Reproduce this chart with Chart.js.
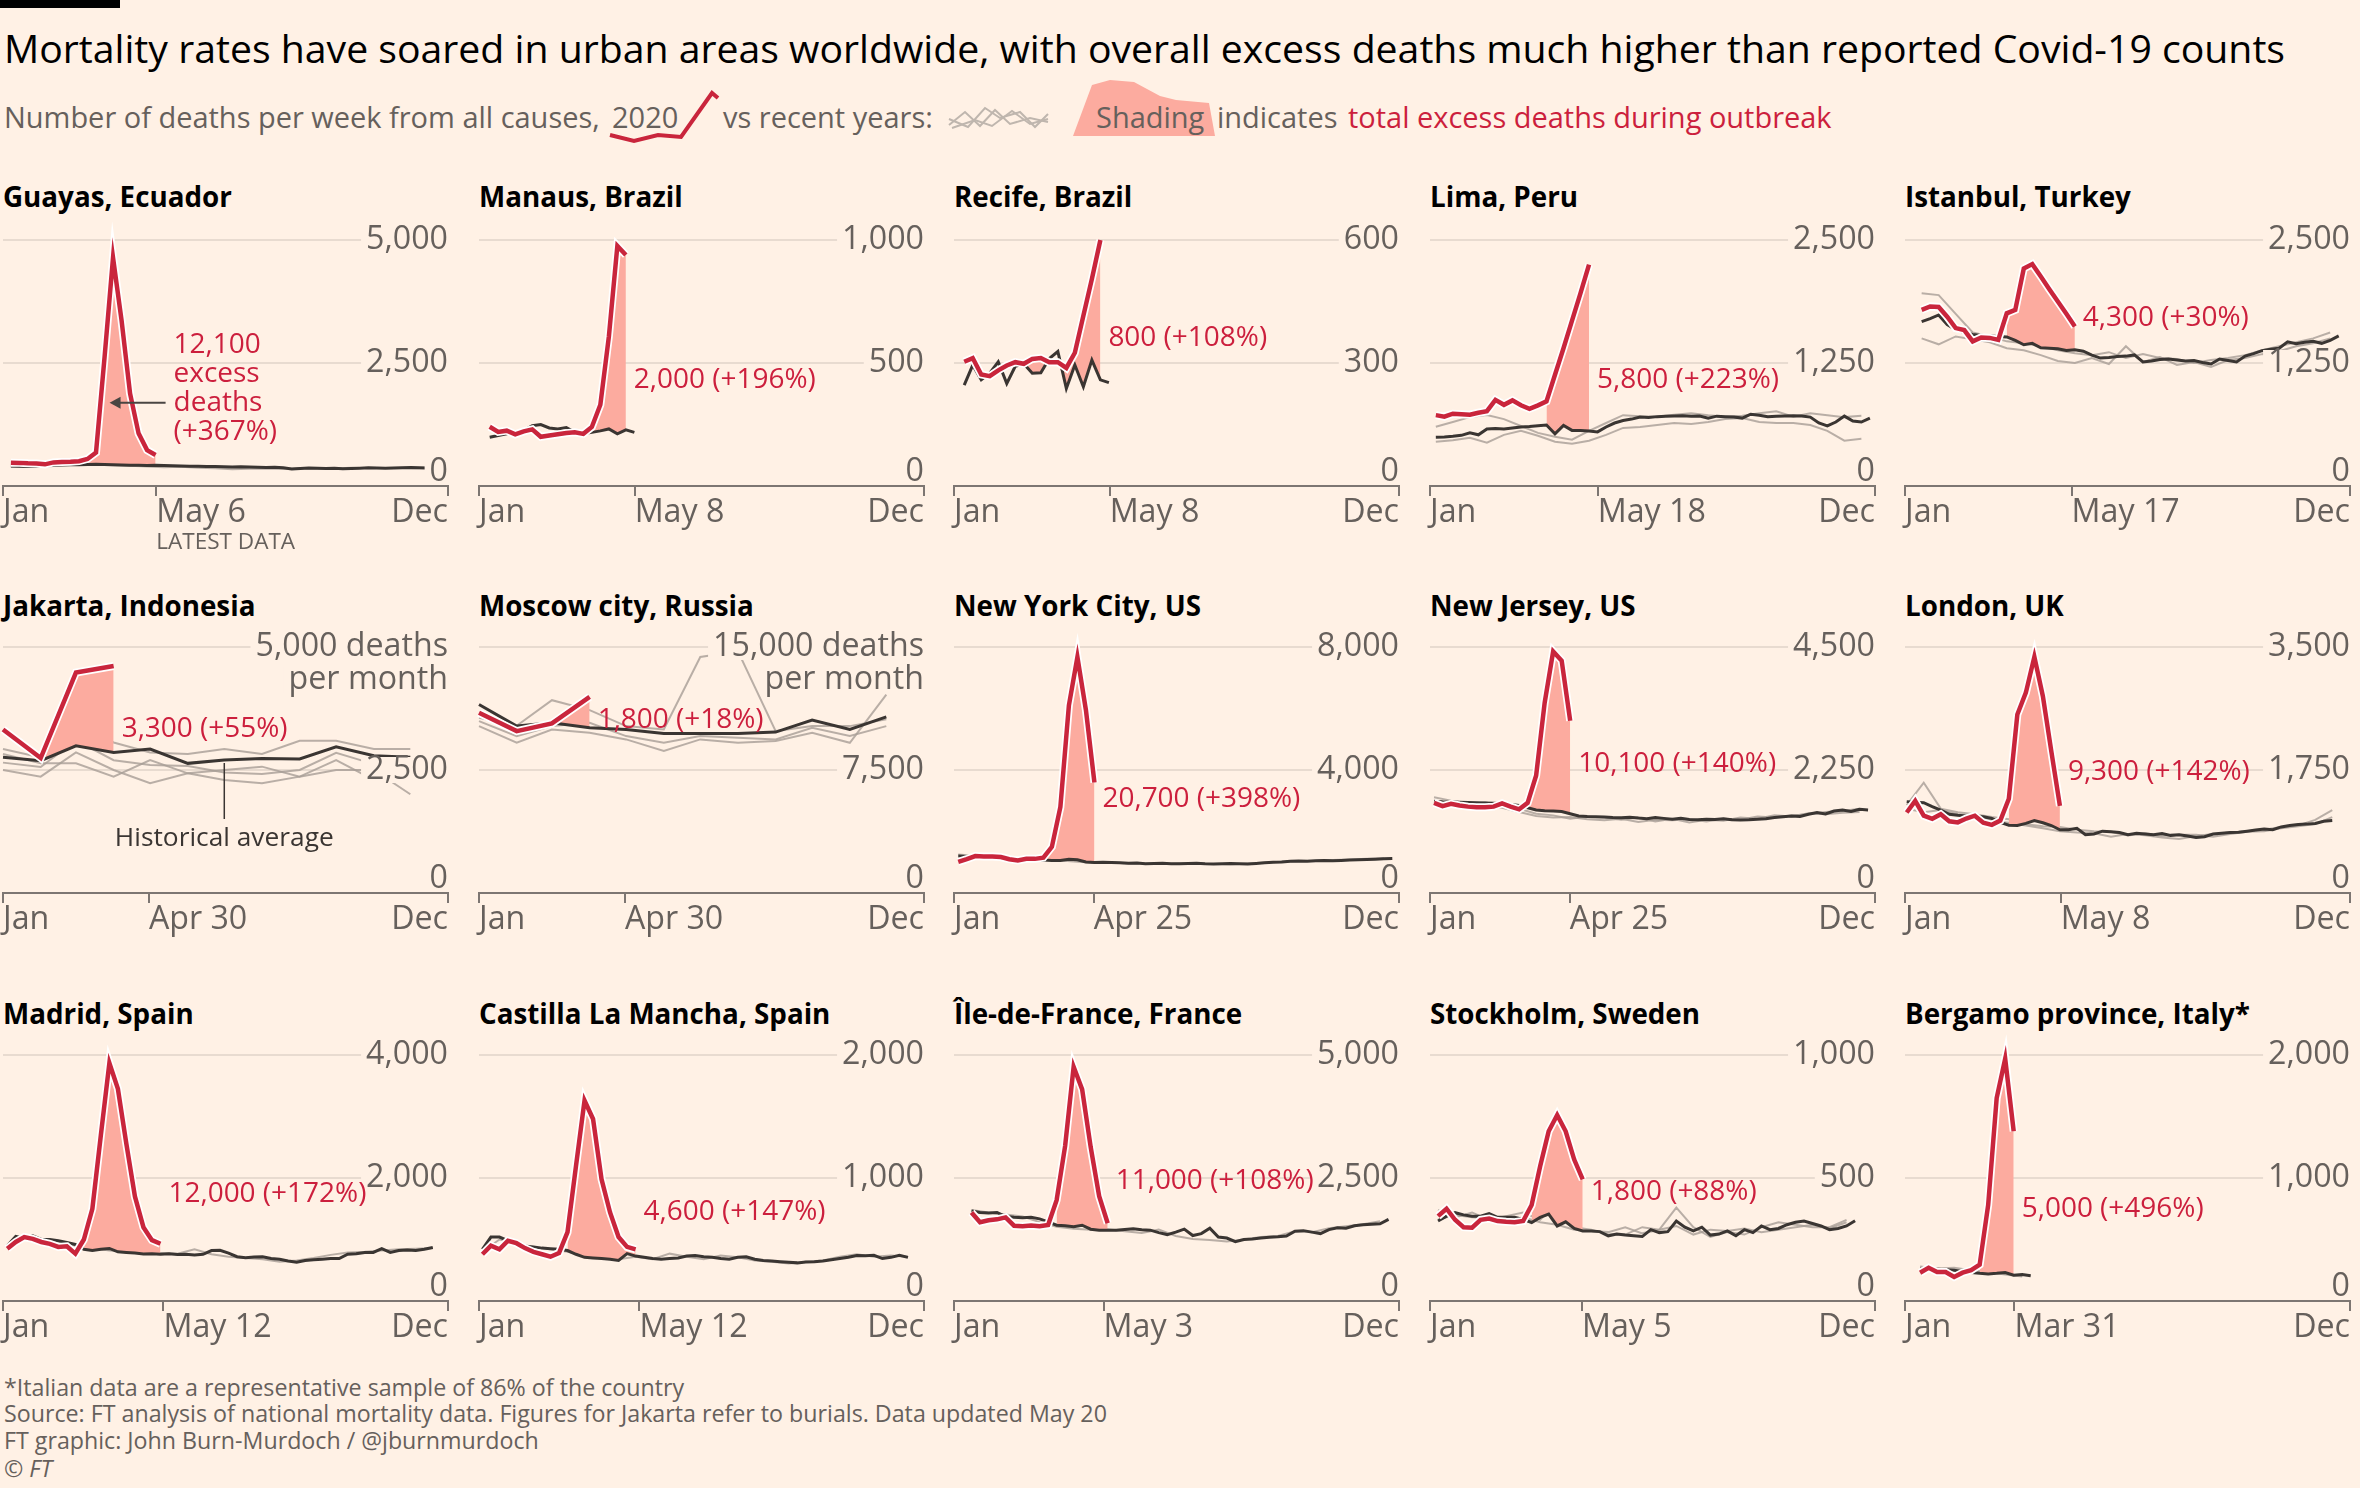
<!DOCTYPE html>
<html>
<head>
<meta charset="utf-8">
<title>Excess mortality in urban areas</title>
<script src="https://cdn.jsdelivr.net/npm/chart.js@4.4.1/dist/chart.umd.min.js"></script>
<style>
  html, body { margin: 0; padding: 0; background: #fff1e5; }
  body { position: relative; width: 2360px; height: 1488px; overflow: hidden; font-family: "Open Sans", sans-serif; }
  .t { position: absolute; white-space: nowrap; line-height: 1; }
  canvas { position: absolute; }
</style>
</head>
<body>
<div style="position:absolute;left:0;top:0;width:120px;height:8px;background:#000"></div>
<svg style="position:absolute;left:0;top:0" width="2360" height="150">
  <polygon points="1073,136 1092,85 1110,80 1134,82 1160,96 1176,100 1209,103 1215,136" fill="#fcab9f"/>
  <polyline points="610,135 634,141 658,135 681,137 712,93 718,98" fill="none" stroke="#c9253c" stroke-width="4"/>
  <g fill="none" stroke="#bfb6ae" stroke-width="2">
    <polyline points="949,125 965,112 980,126 995,110 1010,124 1030,118 1048,122"/>
    <polyline points="949,119 968,127 985,108 1000,118 1020,112 1035,127 1048,114"/>
    <polyline points="952,128 975,120 992,126 1012,111 1030,124 1048,119"/>
  </g>
</svg>
<script>
// ---- data: weekly deaths, 2020 vs historical average and past years ----
const panelTitles = ['Guayas, Ecuador', 'Manaus, Brazil', 'Recife, Brazil', 'Lima, Peru', 'Istanbul, Turkey',
  'Jakarta, Indonesia', 'Moscow city, Russia', 'New York City, US', 'New Jersey, US', 'London, UK',
  'Madrid, Spain', 'Castilla La Mancha, Spain', 'Île-de-France, France', 'Stockholm, Sweden', 'Bergamo province, Italy*'];
const yMax = [5000, 1000, 600, 2500, 2500, 5000, 15000, 8000, 4500, 3500, 4000, 2000, 5000, 1000, 2000];
const topSuffix = ['', '', '', '', '', ' deaths', ' deaths', '', '', '', '', '', '', '', ''];
const latestLabels = ['May 6', 'May 8', 'May 8', 'May 18', 'May 17', 'Apr 30', 'Apr 30', 'Apr 25', 'Apr 25', 'May 8',
  'May 12', 'May 12', 'May 3', 'May 5', 'Mar 31'];
const latestDays = [126, 128, 128, 138, 137, 120, 120, 115, 115, 128, 132, 132, 123, 125, 90];
// day of year of the first weekly value (null = monthly data)
const startDays = [6.5, 8.8, 8.4, 4.8, 13.7, null, null, 3.5, 3.3, 1.4, 3.5, 2.8, 14.4, 6.6, 12.4];
const monthDays = [0, 31, 60, 91, 121, 152, 182, 213, 244, 274, 305, 335];
const outbreakStart = [9, 11, 7, 13, 10, 1, 2, 10, 11, 12, 9, 10, 10, 11, 7];
const excessText = ['12,100\nexcess\ndeaths\n(+367%)', '2,000 (+196%)', '800 (+108%)', '5,800 (+223%)', '4,300 (+30%)',
  '3,300 (+55%)', '1,800 (+18%)', '20,700 (+398%)', '10,100 (+140%)', '9,300 (+142%)',
  '12,000 (+172%)', '4,600 (+147%)', '11,000 (+108%)', '1,800 (+88%)', '5,000 (+496%)'];
const labelValueY = [2870, 431, 361, 1077, 1707, 3340, 10567, 3045, 2350, 1715, 1733, 720, 2429, 441, 745];

const guayas2020 = [474, 470, 460, 455, 440, 480, 490, 495, 505, 550, 680, 2610, 4640, 3370, 1880, 1070, 730, 630];
const guayasAvg = [405, 400, 398, 402, 410, 418, 425, 430, 432, 436, 440, 438, 432, 428, 424, 420, 418, 421, 416, 410,
  406, 402, 400, 397, 395, 392, 388, 390, 386, 382, 378, 380, 372, 345, 358, 366, 362, 356, 360, 352,
  356, 362, 370, 366, 360, 364, 370, 374, 370, 366, 362, 366];
const guayasPast = [[390, 400, 420, 440, 450, 430, 420, 410, 395, 380, 390, 370, 360, 340, 350, 355, 345, 360, 350, 355, 370, 360, 365, 370, 360, 355]];

const manaus2020 = [241, 220, 225, 210, 222, 230, 200, 205, 210, 215, 218, 212, 240, 330, 607, 976, 939];
const manausAvg = [198, 205, 212, 218, 225, 245, 250, 236, 232, 238, 218, 212, 218, 224, 232, 212, 228, 218];
const manausPast = [];

const recife2020 = [303, 312, 272, 268, 282, 294, 302, 298, 310, 312, 302, 302, 288, 325, 415, 505, 600];
const recifeAvg = [246, 295, 259, 275, 303, 250, 292, 298, 275, 276, 311, 328, 238, 295, 242, 307, 259, 252];
const recifePast = [];

const lima2020 = [720, 705, 735, 730, 725, 745, 760, 875, 825, 870, 820, 785, 820, 860, 1130, 1400, 1680, 1960, 2250];
const limaAvg = [495, 498, 505, 515, 540, 520, 580, 585, 580, 590, 600, 605, 612, 620, 530, 615, 565, 565, 560, 550,
  600, 640, 665, 680, 700, 695, 705, 710, 712, 715, 710, 712, 690, 710, 705, 700, 690, 730, 720, 705,
  710, 712, 715, 712, 700, 640, 610, 650, 710, 660, 650, 690];
const limaPast = [
  [603, 650, 700, 722, 680, 610, 540, 500, 470, 560, 640, 720, 710, 705, 725, 740, 720, 705, 715, 740, 760, 705, 740, 720, 700, 715],
  [450, 465, 490, 440, 520, 560, 510, 450, 430, 460, 520, 590, 600, 620, 640, 630, 650, 680, 690, 650, 640, 640, 620, 560, 460, 480]];

const istanbul2020 = [1790, 1825, 1820, 1720, 1605, 1585, 1470, 1510, 1505, 1485, 1755, 1790, 2210, 2255, 2130, 2000, 1875, 1750, 1620];
const istanbulAvg = [1670, 1700, 1738, 1640, 1590, 1560, 1540, 1530, 1525, 1520, 1515, 1480, 1435, 1450, 1405, 1400, 1395, 1378, 1385, 1370,
  1330, 1300, 1305, 1315, 1320, 1332, 1260, 1270, 1285, 1290, 1280, 1270, 1275, 1255, 1240, 1290, 1275, 1260, 1320, 1345,
  1375, 1390, 1400, 1465, 1445, 1460, 1470, 1450, 1480, 1525];
const istanbulPast = [
  [1960, 1940, 1750, 1560, 1520, 1470, 1450, 1420, 1380, 1350, 1330, 1360, 1300, 1340, 1300, 1290, 1250, 1280, 1300, 1330, 1380, 1420, 1460, 1500, 1560],
  [1500, 1440, 1520, 1490, 1460, 1400, 1380, 1330, 1270, 1250, 1300, 1240, 1420, 1260, 1310, 1230, 1260, 1210, 1280, 1300, 1340, 1370, 1420, 1450, 1500]];

// Jakarta and Moscow: monthly deaths
const jakarta2020 = [3324, 2743, 4480, 4615];
const jakartaAvg = [2757, 2689, 2993, 2858, 2926, 2635, 2703, 2736, 2723, 2973, 2790, 2757];
const jakartaPast = [
  [2926, 2757, 3432, 3060, 2858, 2824, 2926, 2824, 3095, 3095, 2926, 2926],
  [2500, 2365, 2858, 2500, 2230, 2432, 2500, 2568, 2365, 2500, 2500, 2007],
  [2824, 2635, 2635, 2365, 2703, 2432, 2297, 2230, 2365, 2703, 2297, 2568],
  [2650, 2560, 3100, 2700, 2600, 2580, 2450, 2420, 2500, 2850, 2620, 2680]];

const moscow2020 = [10986, 9871, 10338, 11959];
const moscowAvg = [11493, 10176, 10378, 10074, 9973, 9730, 9730, 9730, 9811, 10540, 9973, 10743];
const moscowPast = [
  [10682, 10200, 11757, 11149, 10176, 9973, 14392, 14737, 9871, 10176, 10176, 10600],
  [10480, 9568, 10176, 10378, 9568, 9162, 9568, 9466, 9365, 10074, 9568, 10176],
  [10176, 9162, 9973, 9770, 9365, 8655, 9365, 9162, 9264, 9770, 9162, 12100]];

const nyc2020 = [1010, 1100, 1200, 1190, 1190, 1170, 1100, 1060, 1110, 1110, 1150, 1500, 2800, 6100, 7675, 5950, 3590];
const nycAvg = [1200, 1190, 1180, 1170, 1160, 1150, 1130, 1110, 1090, 1080, 1075, 1060, 1055, 1100, 1080, 1010, 990, 1000, 995, 980,
  970, 975, 950, 960, 965, 950, 955, 960, 965, 950, 945, 955, 960, 950, 945, 960, 980, 1000, 1010, 1030,
  1040, 1035, 1050, 1060, 1045, 1060, 1075, 1080, 1090, 1100, 1110, 1120];
const nycPast = [[1250, 1200, 1170, 1140, 1100, 1080, 1060, 1020, 980, 990, 960, 950, 940, 960, 950, 945, 935, 960, 990, 1020, 1040, 1050, 1070, 1090, 1110, 1130]];

const nj2020 = [1650, 1590, 1630, 1600, 1580, 1570, 1570, 1580, 1640, 1580, 1530, 1650, 2150, 3480, 4420, 4250, 3150];
const njAvg = [1680, 1670, 1665, 1660, 1655, 1650, 1645, 1640, 1635, 1620, 1600, 1560, 1520, 1505, 1500, 1490, 1450, 1410, 1400, 1395,
  1390, 1380, 1375, 1385, 1370, 1360, 1380, 1365, 1350, 1365, 1345, 1340, 1350, 1345, 1360, 1340, 1335, 1340, 1350, 1360,
  1380, 1395, 1410, 1400, 1440, 1470, 1445, 1500, 1520, 1490, 1530, 1520];
const njPast = [
  [1750, 1690, 1640, 1600, 1560, 1480, 1410, 1380, 1390, 1350, 1330, 1360, 1300, 1340, 1330, 1350, 1310, 1360, 1340, 1400, 1380, 1420, 1440, 1480, 1500, 1540],
  [1600, 1650, 1620, 1660, 1590, 1540, 1450, 1420, 1360, 1400, 1380, 1340, 1380, 1310, 1360, 1290, 1340, 1320, 1380, 1360, 1420, 1400, 1460, 1440, 1470, 1480]];

const london2020 = [1145, 1310, 1100, 1055, 1120, 1020, 1005, 1060, 1100, 1000, 970, 1030, 1340, 2540, 2850, 3360, 2800, 2010, 1240];
const londonAvg = [1300, 1290, 1285, 1230, 1180, 1120, 1105, 1095, 1090, 1085, 1060, 1005, 965, 960, 990, 1030, 1000, 960, 900, 900,
  920, 830, 840, 880, 870, 860, 830, 850, 840, 830, 845, 820, 830, 810, 790, 800, 840, 850, 860, 865,
  880, 895, 910, 900, 940, 960, 975, 980, 990, 1020, 1030];
const londonPast = [
  [1250, 1570, 1200, 1150, 1120, 1080, 1050, 980, 950, 940, 900, 880, 870, 820, 850, 810, 830, 830, 800, 840, 870, 880, 920, 950, 980, 1080],
  [1200, 1150, 1180, 1120, 1090, 1020, 1000, 960, 920, 880, 860, 850, 800, 840, 820, 790, 770, 810, 840, 860, 880, 900, 940, 960, 1040, 1180]];

const madrid2020 = [850, 960, 1040, 1010, 960, 930, 880, 890, 770, 1000, 1500, 2700, 3870, 3450, 2550, 1700, 1200, 990, 930];
const madridAvg = [900, 1050, 1020, 1060, 1000, 1000, 980, 950, 920, 840, 820, 840, 855, 800, 790, 780, 765, 770, 760, 770,
  755, 760, 750, 760, 820, 825, 780, 720, 705, 715, 720, 690, 680, 650, 630, 660, 670, 680, 690, 690,
  760, 770, 790, 790, 850, 790, 820, 830, 820, 840, 870];
const madridPast = [[880, 1000, 990, 960, 900, 860, 820, 800, 780, 780, 770, 840, 760, 720, 700, 680, 640, 660, 700, 750, 790, 800, 820, 840, 850, 860]];

const castilla2020 = [380, 450, 420, 490, 470, 430, 400, 380, 360, 390, 560, 1100, 1630, 1480, 990, 720, 520, 440, 420];
const castillaAvg = [420, 520, 520, 490, 460, 445, 440, 430, 425, 420, 410, 380, 355, 350, 345, 340, 330, 385, 365, 355,
  345, 340, 345, 350, 365, 370, 360, 355, 345, 340, 355, 360, 340, 330, 325, 320, 315, 310, 318, 320,
  325, 335, 345, 355, 370, 368, 372, 345, 355, 372, 355];
const castillaPast = [[400, 500, 470, 440, 420, 400, 370, 360, 340, 360, 340, 385, 360, 340, 370, 355, 330, 320, 305, 320, 330, 360, 380, 360, 370, 360]];

const idf2020 = [1800, 1600, 1640, 1660, 1700, 1530, 1520, 1535, 1520, 1545, 2050, 3150, 4760, 4300, 3130, 2130, 1580];
const idfAvg = [1830, 1800, 1790, 1800, 1716, 1700, 1690, 1700, 1670, 1610, 1540, 1530, 1510, 1540, 1460, 1440, 1440, 1440, 1455, 1470,
  1450, 1440, 1390, 1350, 1400, 1460, 1330, 1370, 1480, 1300, 1280, 1205, 1250, 1260, 1280, 1295, 1305, 1320, 1420, 1430,
  1400, 1370, 1450, 1490, 1480, 1530, 1550, 1560, 1570, 1660];
const idfPast = [[1850, 1800, 1760, 1720, 1600, 1510, 1470, 1450, 1460, 1420, 1380, 1450, 1320, 1260, 1240, 1210, 1250, 1300, 1320, 1420, 1400, 1480, 1520, 1560, 1620]];

const stockholm2020 = [345, 375, 330, 300, 298, 330, 335, 325, 322, 320, 325, 390, 548, 690, 756, 690, 575, 494];
const stockholmAvg = [325, 345, 359, 350, 345, 345, 355, 340, 340, 340, 332, 319, 340, 353, 305, 322, 295, 285, 285, 282,
  265, 272, 268, 265, 262, 290, 278, 282, 325, 300, 285, 300, 268, 272, 285, 265, 290, 278, 305, 290,
  295, 310, 320, 325, 315, 305, 290, 295, 305, 326];
const stockholmPast = [
  [370, 340, 360, 330, 345, 360, 330, 400, 300, 290, 270, 270, 300, 290, 380, 300, 260, 280, 270, 300, 320, 310, 300, 300, 330],
  [330, 350, 340, 335, 325, 340, 320, 310, 290, 285, 280, 300, 275, 290, 305, 270, 290, 285, 295, 280, 290, 300, 310, 295, 320]];

const bergamo2020 = [230, 270, 235, 235, 195, 230, 250, 295, 780, 1650, 1970, 1380];
const bergamoAvg = [260, 262, 258, 255, 250, 240, 232, 225, 220, 225, 232, 210, 215, 205];
const bergamoPast = [[280, 265, 270, 250, 235, 215, 200]];

const series2020 = [guayas2020, manaus2020, recife2020, lima2020, istanbul2020, jakarta2020, moscow2020, nyc2020, nj2020,
  london2020, madrid2020, castilla2020, idf2020, stockholm2020, bergamo2020];
const seriesAvg = [guayasAvg, manausAvg, recifeAvg, limaAvg, istanbulAvg, jakartaAvg, moscowAvg, nycAvg, njAvg,
  londonAvg, madridAvg, castillaAvg, idfAvg, stockholmAvg, bergamoAvg];
const seriesPast = [guayasPast, manausPast, recifePast, limaPast, istanbulPast, jakartaPast, moscowPast, nycPast, njPast,
  londonPast, madridPast, castillaPast, idfPast, stockholmPast, bergamoPast];

// ---- look ----
const BG = '#fff1e5', RED = '#c9253c', RED_TEXT = '#cc1f3d', SHADE = '#fcab9f', DARK = '#3a3532',
  GREY = 'rgba(168,158,150,0.8)', GRID = '#e8dbd0', AXIS = '#7d7672', LABEL = '#66605c';
const colLeft = [3, 479, 954, 1430, 1905], chartW = 445;
const rowTop = [240, 647, 1055], chartH = 246;
const titleBase = [208, 617, 1025];
const PADX = 14, PADT = 30, PADB = 80, TICKLEN = 10;
const FONT = '"Open Sans", sans-serif';

const titleText = 'Mortality rates have soared in urban areas worldwide, with overall excess deaths much higher than reported Covid-19 counts';
const sourceText = 'Source: FT analysis of national mortality data. Figures for Jakarta refer to burials. Data updated May 20';

const mctx = document.createElement('canvas').getContext('2d');
function fitSize(text, weight, target) {
  mctx.font = `${weight} 100px ${FONT}`;
  return 100 * target / mctx.measureText(text).width;
}
const FS = {
  title: fitSize(titleText, 400, 2282),
  sub: fitSize('Number of deaths per week from all causes,', 400, 596),
  panel: fitSize('Istanbul, Turkey', 700, 226),
  tick: fitSize('2,500', 400, 82),
  excess: fitSize('2,000 (+196%)', 500, 182),
  foot: fitSize(sourceText, 400, 1103),
  small: fitSize('LATEST DATA', 400, 139),
  hist: fitSize('Historical average', 400, 219)
};

function addText(html, x, base, fs, color, weight) {
  const el = document.createElement('div');
  el.className = 't';
  el.innerHTML = html;
  el.style.left = x + 'px';
  el.style.top = (base - 0.888 * fs) + 'px';
  el.style.fontSize = fs + 'px';
  el.style.color = color;
  if (weight) el.style.fontWeight = weight;
  document.body.appendChild(el);
  return el;
}

// header
addText(titleText, 4, 63, FS.title, '#000');
addText('Number of deaths per week from all causes,', 4, 128, FS.sub, LABEL);
addText('2020', 612, 128, FS.sub, LABEL);
addText('vs recent years:', 723, 128, FS.sub, LABEL);
addText('Shading', 1096, 128, FS.sub, LABEL);
addText('indicates', 1217, 128, FS.sub, LABEL);
addText('total excess deaths during outbreak', 1348, 128, FS.sub, RED_TEXT);

// footer
addText('*Italian data are a representative sample of 86% of the country', 4, 1397, FS.foot, LABEL);
addText(sourceText, 4, 1423, FS.foot, LABEL);
addText('FT graphic: John Burn-Murdoch / @jburnmurdoch', 4, 1450, FS.foot, LABEL);
addText('© <i>FT</i>', 4, 1478, FS.foot, LABEL);

const fmt = v => v.toLocaleString('en-US');

const decor = {
  id: 'decor',
  afterDatasetsDraw(chart, args, opts) {
    const i = opts.idx;
    const { ctx, chartArea: a, scales: { x, y } } = chart;
    ctx.save();
    // x axis line and three tick marks
    ctx.strokeStyle = AXIS;
    ctx.lineWidth = 2;
    ctx.beginPath();
    ctx.moveTo(a.left - 1, a.bottom);
    ctx.lineTo(a.right + 1, a.bottom);
    [0, latestDays[i], 366].forEach(d => {
      const px = Math.round(x.getPixelForValue(d));
      ctx.moveTo(px, a.bottom);
      ctx.lineTo(px, a.bottom + TICKLEN);
    });
    ctx.stroke();

    // x labels
    ctx.fillStyle = LABEL;
    ctx.font = `${FS.tick}px ${FONT}`;
    ctx.textBaseline = 'middle';
    const ly = a.bottom + 27;
    ctx.textAlign = 'left';
    ctx.fillText('Jan', a.left, ly);
    ctx.fillText(latestLabels[i], x.getPixelForValue(latestDays[i]), ly);
    ctx.textAlign = 'right';
    ctx.fillText('Dec', a.right, ly);
    if (i === 0) {
      ctx.textAlign = 'left';
      ctx.font = `${FS.small}px ${FONT}`;
      ctx.fillText('LATEST DATA', x.getPixelForValue(latestDays[i]), a.bottom + 57);
    }

    // y labels, inside the plot on the right
    ctx.font = `${FS.tick}px ${FONT}`;
    ctx.textAlign = 'right';
    y.ticks.forEach(t => {
      let py = y.getPixelForValue(t.value);
      if (t.value === 0) py -= 14;
      const lines = [fmt(t.value) + (t.value === yMax[i] ? topSuffix[i] : '')];
      if (t.value === yMax[i] && topSuffix[i]) lines.push('per month');
      lines.forEach((s, n) => {
        const w = ctx.measureText(s).width;
        const yy = py + n * 33;
        ctx.fillStyle = BG;
        ctx.fillRect(a.right - w - 5, yy - 13, w + 6, 26);
        ctx.fillStyle = LABEL;
        ctx.fillText(s, a.right, yy);
      });
    });

    // excess deaths label next to the latest 2020 value
    const red = chart.data.datasets[0].data;
    const lastPx = x.getPixelForValue(red[red.length - 1].x);
    const lines = excessText[i].split('\n');
    const lx = lastPx + (lines.length > 1 ? 18 : 8);
    const ly0 = y.getPixelForValue(labelValueY[i]);
    ctx.font = `500 ${FS.excess}px ${FONT}`;
    ctx.textAlign = 'left';
    ctx.fillStyle = RED_TEXT;
    lines.forEach((s, n) => ctx.fillText(s, lx, ly0 + n * 29));
    if (lines.length > 1) {
      const ay = ly0 + 2 * 29;
      ctx.strokeStyle = '#4a4542';
      ctx.fillStyle = '#4a4542';
      ctx.lineWidth = 2;
      ctx.beginPath();
      ctx.moveTo(lx - 8, ay);
      ctx.lineTo(lx - 56, ay);
      ctx.stroke();
      ctx.beginPath();
      ctx.moveTo(lx - 64, ay);
      ctx.lineTo(lx - 53, ay - 6);
      ctx.lineTo(lx - 53, ay + 6);
      ctx.closePath();
      ctx.fill();
    }

    // Jakarta: historical average pointer
    if (i === 5) {
      const hx = x.getPixelForValue(monthDays[6]);
      const hy = y.getPixelForValue(jakartaAvg[6]);
      ctx.strokeStyle = DARK;
      ctx.lineWidth = 1.5;
      ctx.beginPath();
      ctx.moveTo(hx, hy + 3);
      ctx.lineTo(hx, a.bottom - 74);
      ctx.stroke();
      ctx.fillStyle = DARK;
      ctx.textAlign = 'center';
      ctx.font = `${FS.hist}px ${FONT}`;
      ctx.fillText('Historical average', hx, a.bottom - 55);
    }
    ctx.restore();
  }
};

panelTitles.forEach((title, i) => {
  const col = i % 5, row = Math.floor(i / 5);
  const left = colLeft[col], top = rowTop[row];
  addText(title, left, titleBase[row], FS.panel, '#000', 700);

  const cv = document.createElement('canvas');
  cv.width = chartW + 2 * PADX;
  cv.height = chartH + PADT + PADB;
  cv.style.left = (left - PADX) + 'px';
  cv.style.top = (top - PADT) + 'px';
  document.body.appendChild(cv);

  const monthly = startDays[i] === null;
  const xAt = (k, step) => monthly ? monthDays[k] : startDays[i] + step * k;
  const red = series2020[i].map((v, k) => ({ x: xAt(k, 7), y: v }));
  const avg = seriesAvg[i].map((v, k) => ({ x: xAt(k, 7), y: v }));
  const shade = red.slice(outbreakStart[i]);
  const past = seriesPast[i].map(s => s.map((v, j) => ({ x: xAt(j, 14), y: v })));

  const datasets = [
    { data: red, borderColor: RED, borderWidth: 4.5, fill: false, clip: false },
    { data: red, borderColor: '#ffffff', borderWidth: 8, fill: false, clip: false },
    { data: avg, borderColor: DARK, borderWidth: 3, fill: false, clip: false },
    { data: shade, borderColor: 'rgba(0,0,0,0)', borderWidth: 0.01, clip: false,
      fill: { target: 2, above: SHADE, below: 'rgba(0,0,0,0)' } },
    ...past.map(p => ({ data: p, borderColor: GREY, borderWidth: 2, fill: false, clip: false }))
  ];

  new Chart(cv, {
    type: 'line',
    data: { datasets },
    options: {
      responsive: false,
      animation: false,
      devicePixelRatio: 1,
      events: [],
      layout: { padding: { left: PADX, right: PADX, top: PADT, bottom: PADB } },
      elements: { point: { radius: 0 }, line: { tension: 0, borderJoinStyle: 'miter' } },
      plugins: { legend: { display: false }, tooltip: { enabled: false }, decor: { idx: i } },
      scales: {
        x: { type: 'linear', display: false, min: 0, max: 366 },
        y: {
          type: 'linear', position: 'right', min: 0, max: yMax[i],
          afterBuildTicks: ax => { ax.ticks = [0, yMax[i] / 2, yMax[i]].map(v => ({ value: v })); },
          grid: { drawTicks: false, lineWidth: 2, color: c => (c.tick && c.tick.value === 0) ? 'rgba(0,0,0,0)' : GRID },
          border: { display: false },
          ticks: { display: false }
        }
      }
    },
    plugins: [decor]
  });
});
</script>
</body>
</html>
